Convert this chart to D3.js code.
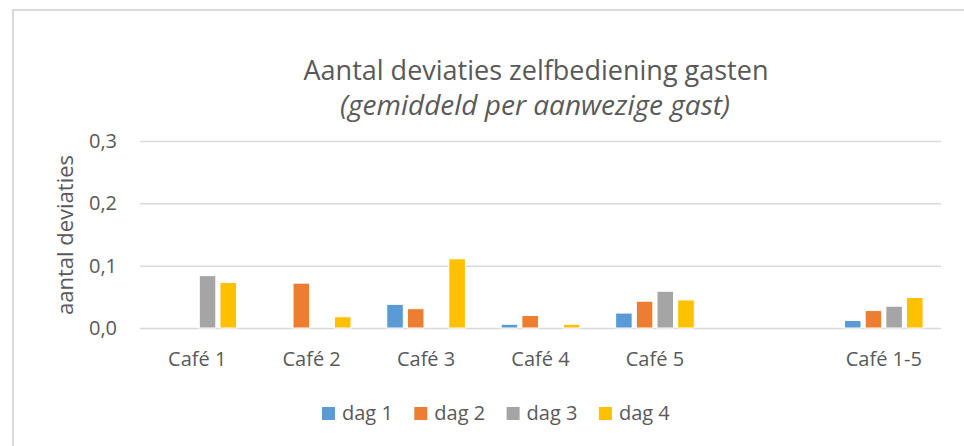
<!DOCTYPE html>
<html>
<head>
<meta charset="utf-8">
<script src="https://cdn.jsdelivr.net/npm/d3@7"></script>
<style>
  body { margin: 0; background: #fff; }
  text { font-family: "Open Sans", sans-serif; fill: #595959; }
</style>
</head>
<body>
<div id="chart"></div>
<script>
// data
const cafes = ["Café 1", "Café 2", "Café 3", "Café 4", "Café 5", "", "Café 1-5"];
const series = ["dag 1", "dag 2", "dag 3", "dag 4"];
const dag1 = [0, 0, 0.038, 0.006, 0.024, null, 0.012];
const dag2 = [0, 0.072, 0.031, 0.020, 0.043, null, 0.028];
const dag3 = [0.084, 0, 0, 0, 0.059, null, 0.035];
const dag4 = [0.073, 0.018, 0.111, 0.006, 0.045, null, 0.049];
const yTicks = [0, 0.1, 0.2, 0.3];
const colors = ["#5b9bd5", "#ed7d31", "#a5a5a5", "#ffc000"];

const values = [dag1, dag2, dag3, dag4];
const catKeys = cafes.map((c, i) => "c" + i);

const width = 964, height = 446;
const margin = {top: 141, right: 23, bottom: 118, left: 140};
const plotW = width - margin.left - margin.right,
      plotH = height - margin.top - margin.bottom;

const svg = d3.select("#chart")
  .append("svg")
    .attr("width", width)
    .attr("height", height);

// chart frame (top and left edge visible)
svg.append("path")
  .attr("d", "M13,446V10H964")
  .attr("fill", "none")
  .attr("stroke", "#d9d9d9")
  .attr("stroke-width", 2);

const g = svg.append("g")
  .attr("transform", "translate(" + margin.left + "," + margin.top + ")");

const nl = d3.formatLocale({decimal: ",", thousands: ".", grouping: [3], currency: ["€", ""]});

// scales
let x0 = d3.scaleBand()
  .domain(catKeys)
  .range([0, plotW]);

let x1 = d3.scaleBand()
  .domain(series)
  .range([0, x0.bandwidth()])
  .paddingInner(0.2)
  .paddingOuter(0.865);

let y = d3.scaleLinear()
  .domain([0, 0.3])
  .range([plotH, 0]);

// gridlines + y labels
let yAxis = d3.axisLeft(y)
  .tickValues(yTicks)
  .tickFormat(nl.format(".1f"))
  .tickSize(-plotW)
  .tickPadding(23);

g.append("g")
  .attr("class", "y-axis")
  .call(yAxis)
  .call(a => a.select(".domain").remove())
  .call(a => a.selectAll("line").attr("stroke", "#d9d9d9").attr("stroke-width", 1.5))
  .call(a => a.selectAll("text")
    .style("font-family", "Open Sans")
    .style("font-size", "20px")
    .attr("fill", "#595959"));

// x labels
let xAxis = d3.axisBottom(x0)
  .tickFormat((d, i) => cafes[i])
  .tickSize(0)
  .tickPadding(24);

g.append("g")
  .attr("class", "x-axis")
  .attr("transform", "translate(0," + plotH + ")")
  .call(xAxis)
  .call(a => a.select(".domain").remove())
  .call(a => a.selectAll("text")
    .style("font-family", "Open Sans")
    .style("font-size", "20px")
    .attr("fill", "#595959"));

// bars
const groups = g.selectAll(".cat")
  .data(catKeys)
  .enter()
  .append("g")
  .attr("transform", d => "translate(" + x0(d) + ",0)");

groups.selectAll("rect")
  .data((d, i) => series.map((s, j) => ({s: s, j: j, v: values[j][i]})))
  .enter()
  .filter(d => d.v)
  .append("rect")
  .attr("x", d => x1(d.s))
  .attr("y", d => y(d.v))
  .attr("width", x1.bandwidth())
  .attr("height", d => y(0) - y(d.v))
  .attr("fill", d => colors[d.j])
  .attr("stroke", "#ffffff")
  .attr("stroke-width", 1);

// title
svg.append("text")
  .attr("x", 536)
  .attr("y", 80)
  .attr("text-anchor", "middle")
  .style("font-size", "27px")
  .text("Aantal deviaties zelfbediening gasten");

svg.append("text")
  .attr("x", 535)
  .attr("y", 115)
  .attr("text-anchor", "middle")
  .style("font-size", "28px")
  .style("font-style", "italic")
  .text("(gemiddeld per aanwezige gast)");

// y-axis title
svg.append("text")
  .attr("transform", "translate(73,235) rotate(-90)")
  .attr("text-anchor", "middle")
  .style("font-size", "22px")
  .text("aantal deviaties");

// legend
let lx = d3.scaleBand()
  .domain(series)
  .range([322, 322 + 4 * 92.3]);

const legend = svg.selectAll(".legend")
  .data(series)
  .enter()
  .append("g")
  .attr("transform", d => "translate(" + lx(d) + ",407)");

legend.append("rect")
  .attr("width", 13)
  .attr("height", 13)
  .attr("fill", (d, i) => colors[i]);

legend.append("text")
  .attr("x", 20)
  .attr("y", 13)
  .style("font-size", "20px")
  .text(d => d);
</script>
</body>
</html>
